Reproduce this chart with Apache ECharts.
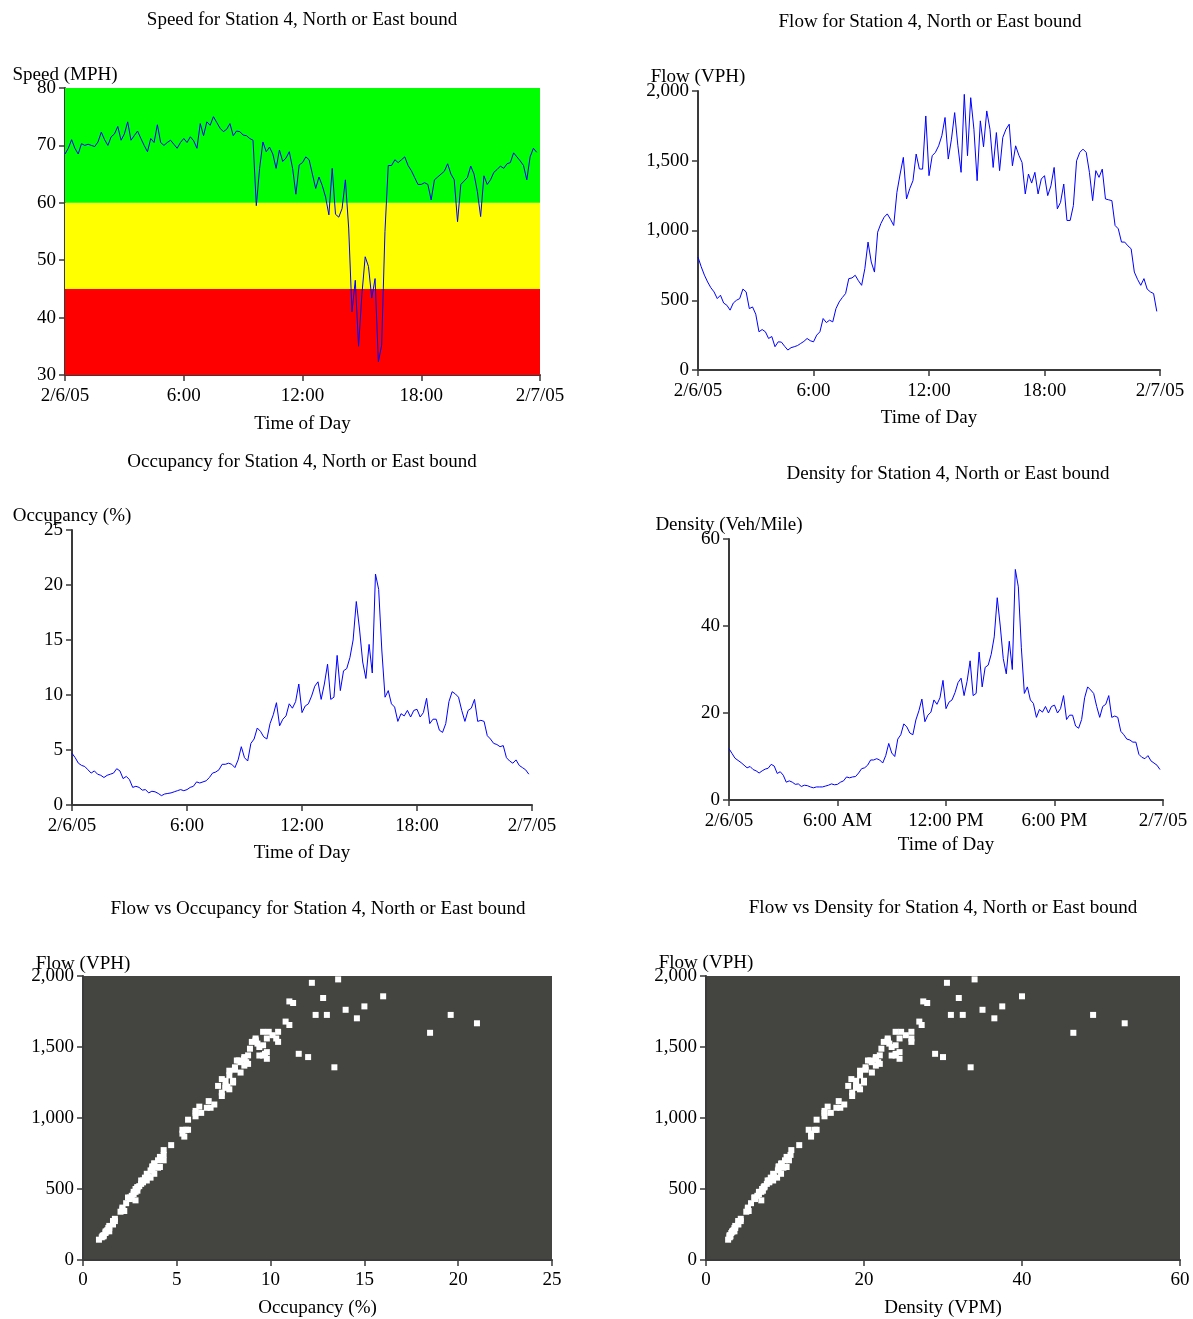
<!DOCTYPE html>
<html>
<head>
<meta charset="utf-8">
<title>Station 4, North or East bound</title>
<script src="https://cdn.jsdelivr.net/npm/echarts@6/dist/echarts.min.js"></script>
<style>
  html, body { margin: 0; padding: 0; background: #fff; }
  #chart { width: 1193px; height: 1319px; }
</style>
</head>
<body>
<div id="chart"></div>
<script>
// Station 4, north/east bound, 2/6/05 – one reading every 10 minutes from midnight.
const speed = [
  68.5, 69.5, 71, 69.5, 68.5, 70.3,
  70, 70.2, 70, 69.8, 70.6, 72.3,
  71, 70, 71.5, 72, 73.3, 70.9,
  72, 74.1, 70.9, 71.7, 72.5, 71.2,
  70, 68.9, 71.2, 70.5, 73.6, 70.5,
  70, 70.5, 70.9, 70.2, 69.5, 70.5,
  71.2, 70.5, 71.5, 70.8, 69.5, 73.8,
  71.7, 74.1, 73.5, 75, 74, 73,
  72.4, 72.8, 73.8, 71.7, 72.5, 72.4,
  71.8, 71.7, 71.2, 70.9, 59.5, 66,
  70.6, 68.9, 69.7, 68.5, 66, 69.2,
  67.2, 67.8, 68.9, 66, 61.5, 66.6,
  67, 68, 67.5, 65, 62.5, 64.5,
  63, 61, 57.9, 66, 58, 57.5,
  59, 64, 55.6, 41, 46.5, 35,
  44, 50.6, 48.9, 43.4, 46.8, 32.3,
  35.2, 55, 66.5, 66.5, 67.5, 67,
  67.5, 68, 66.5, 65.6, 64.4, 63.2,
  63.2, 63.5, 63.2, 60.5, 64, 64.5,
  65, 65.5, 66.8, 65, 64, 56.7,
  63.2, 63.8, 64.4, 66.4, 65, 62,
  57.6, 64.7, 63.2, 64, 65.3, 65.8,
  66.4, 66, 66.8, 67, 68.7, 68,
  67.3, 66.5, 64, 68, 69.5, 68.8
];

const flow = [
  809, 740, 680, 631, 590, 560,
  512, 536, 480, 464, 429, 480,
  500, 512, 580, 560, 440, 452,
  400, 274, 290, 274, 226, 240,
  167, 202, 200, 170, 143, 160,
  167, 175, 190, 205, 226, 210,
  202, 250, 274, 369, 340, 357,
  345, 440, 488, 520, 548, 655,
  660, 679, 640, 607, 726, 917,
  774, 702, 988, 1050, 1095, 1119,
  1080, 1036, 1274, 1405, 1524, 1226,
  1300, 1357, 1548, 1441, 1440, 1821,
  1393, 1536, 1560, 1607, 1679, 1810,
  1512, 1655, 1845, 1607, 1417, 1976,
  1536, 1952, 1726, 1357, 1786, 1600,
  1857, 1726, 1452, 1702, 1429, 1667,
  1726, 1762, 1464, 1607, 1540, 1488,
  1262, 1405, 1340, 1417, 1262, 1369,
  1393, 1250, 1320, 1452, 1155, 1202,
  1333, 1072, 1072, 1179, 1500, 1560,
  1583, 1560, 1417, 1214, 1429, 1381,
  1440, 1226, 1220, 1214, 1036, 1012,
  917, 917, 890, 869, 702, 650,
  607, 655, 580, 560, 548, 420
];

const occupancy = [
  4.7, 4.3, 3.8, 3.6, 3.5, 3.2,
  2.9, 3.1, 2.8, 2.7, 2.5, 2.7,
  2.8, 2.9, 3.3, 3.1, 2.4, 2.6,
  2.3, 1.6, 1.7, 1.6, 1.35, 1.4,
  1.1, 1.25, 1.2, 1.05, 0.85, 1.0,
  1.05, 1.1, 1.2, 1.3, 1.4, 1.3,
  1.4, 1.6, 1.7, 2.1, 2.0, 2.1,
  2.2, 2.5, 2.9, 3.0, 3.2, 3.7,
  3.7, 3.8, 3.7, 3.4, 4.1, 5.3,
  4.3, 4.0, 5.6, 6.0, 7.0, 6.7,
  6.2, 6.0, 7.4, 8.2, 9.3, 7.2,
  7.8, 8.1, 9.2, 8.8, 9.4, 11.0,
  8.4, 9.0, 9.2, 9.9, 10.8, 11.2,
  9.6, 11.0, 12.8, 9.6, 9.8, 13.6,
  10.4, 12.2, 12.4, 13.4, 15.0, 18.5,
  16.0, 13.0, 11.5, 14.6, 12.0, 21.0,
  19.6, 14.0, 9.8, 10.4, 9.2, 8.9,
  7.6, 8.3, 8.1, 8.6, 8.0, 8.6,
  8.7, 8.0, 8.4, 9.7, 7.4, 7.8,
  7.8, 6.8, 6.6, 7.4, 9.4, 10.3,
  10.1, 9.8, 8.6, 7.6, 8.6, 8.8,
  9.6, 7.6, 7.7, 7.6, 6.3, 6.0,
  5.6, 5.5, 5.3, 5.4, 4.3, 4.0,
  3.8, 4.1, 3.6, 3.4, 3.2, 2.8
];

const density = [
  11.8, 10.7, 9.6, 9.1, 8.6, 8.0,
  7.4, 7.7, 7.0, 6.7, 6.2, 6.7,
  7.1, 7.3, 8.2, 7.8, 6.1, 6.5,
  5.7, 4.1, 4.4, 4.1, 3.6, 3.7,
  3.1, 3.4, 3.3, 3.0, 2.8, 3.0,
  3.0, 3.0, 3.2, 3.4, 3.7, 3.5,
  3.6, 4.1, 4.4, 5.3, 5.1, 5.3,
  5.4, 6.2, 7.2, 7.4, 8.0, 9.2,
  9.2, 9.5, 9.2, 8.5, 10.2, 13.0,
  10.8, 10.0, 14.0, 15.0, 17.5, 16.8,
  15.4, 15.0, 18.4, 20.5, 23.2, 18.0,
  19.5, 20.2, 23.0, 22.0, 23.5, 27.5,
  21.0, 22.5, 23.0, 24.7, 27.0, 28.0,
  24.0, 27.3, 32.0, 24.0, 24.5, 34.0,
  26.0, 30.5, 31.0, 33.5, 37.5, 46.5,
  40.0, 32.5, 29.0, 36.5, 30.0, 53.0,
  49.0, 35.0, 24.5, 26.0, 23.0, 22.2,
  19.0, 20.8, 20.2, 21.5, 20.0, 21.5,
  21.8, 20.0, 21.0, 24.0, 18.5, 19.5,
  19.5, 17.0, 16.5, 18.5, 23.5, 26.0,
  25.3, 24.5, 21.5, 19.0, 21.5, 22.0,
  24.0, 19.0, 19.3, 19.0, 15.8, 15.0,
  14.0, 13.8, 13.3, 13.3, 10.5, 9.8,
  9.5, 10.2, 9.0, 8.5, 8.0, 7.0
];

// Speed condition bands (MPH): congested / slowing / free flow
const speedBandEdges = [30, 45, 60, 80];

// Tick labels
const dayTicks = ['2/6/05', '6:00', '12:00', '18:00', '2/7/05'];
const dayTicksAmPm = ['2/6/05', '6:00 AM', '12:00 PM', '6:00 PM', '2/7/05'];
const flowTicks = ['0', '500', '1,000', '1,500', '2,000'];
const occTicks = ['0', '5', '10', '15', '20', '25'];
const densTicks = ['0', '20', '40', '60'];

const titles = [
  'Speed for Station 4, North or East bound',
  'Flow for Station 4, North or East bound',
  'Occupancy for Station 4, North or East bound',
  'Density for Station 4, North or East bound',
  'Flow vs Occupancy for Station 4, North or East bound',
  'Flow vs Density for Station 4, North or East bound'
];

// ---- presentation ----
const FONT = '"Liberation Serif", "Times New Roman", serif';
const AXIS_COLOR = '#3a3a3a';
const LINE_BLUE = '#0000ff';
const bandColors = ['#ff0000', '#ffff00', '#00ff00'];

const minutes = speed.map((_, i) => i * 10);
const pairs = (vals) => vals.map((v, i) => [minutes[i], v]);

const textStyle = { fontFamily: FONT, fontSize: 19, color: '#000', fontWeight: 'normal' };

function baseAxis(extra) {
  return Object.assign({
    type: 'value',
    axisLine: { show: true, lineStyle: { color: AXIS_COLOR, width: 2 } },
    axisTick: { show: true, length: 6, lineStyle: { color: AXIS_COLOR, width: 1.5 } },
    splitLine: { show: false },
    nameTextStyle: Object.assign({}, textStyle)
  }, extra);
}

function timeAxis(gridIndex, labels, gap) {
  return baseAxis({
    gridIndex, min: 0, max: 1440, interval: 360,
    name: 'Time of Day', nameLocation: 'middle', nameGap: gap,
    axisLabel: Object.assign({ margin: 12, formatter: v => labels[Math.round(v / 360)] }, textStyle)
  });
}

// Value axis on the left; its name sits centred over the top end of the axis line,
// close to the top tick label.
function leftAxis(gridIndex, name, min, max, interval, labels, gap) {
  return baseAxis({
    gridIndex, min, max, interval,
    name, nameLocation: 'end', nameGap: gap, nameMoveOverlap: false,
    nameTextStyle: Object.assign({ align: 'center', verticalAlign: 'middle' }, textStyle),
    axisLabel: Object.assign({ margin: 9, formatter: v => labels ? labels[Math.round((v - min) / interval)] : String(v) }, textStyle)
  });
}

function valueXAxis(gridIndex, name, max, interval, labels) {
  return baseAxis({
    gridIndex, min: 0, max, interval,
    name, nameLocation: 'middle', nameGap: 39,
    axisLabel: Object.assign({ margin: 11, formatter: v => labels[Math.round(v / interval)] }, textStyle)
  });
}

const titlePlacement = [
  [302, 11], [930, 13], [302, 453], [948, 465], [318, 900], [943, 899]
];

const bands = [];
for (let k = 0; k < speedBandEdges.length - 1; k++) {
  bands.push([
    { yAxis: speedBandEdges[k], itemStyle: { color: bandColors[k], opacity: 1 } },
    { yAxis: speedBandEdges[k + 1] }
  ]);
}

const option = {
  animation: false,
  backgroundColor: '#ffffff',
  title: titles.map((t, i) => ({
    text: t,
    left: titlePlacement[i][0],
    top: titlePlacement[i][1],
    textAlign: 'center',
    padding: 0,
    textStyle: Object.assign({}, textStyle)
  })),
  grid: [
    { left: 65, top: 88, width: 475, height: 287 },
    { left: 698, top: 91, width: 462, height: 279 },
    { left: 72, top: 530, width: 460, height: 275 },
    { left: 729, top: 539, width: 434, height: 261 },
    { left: 83, top: 976, width: 469, height: 284, show: true, backgroundColor: '#444440', borderWidth: 0 },
    { left: 706, top: 976, width: 474, height: 285, show: true, backgroundColor: '#444440', borderWidth: 0 }
  ],
  xAxis: [
    timeAxis(0, dayTicks, 40),
    timeAxis(1, dayTicks, 39),
    timeAxis(2, dayTicks, 39),
    timeAxis(3, dayTicksAmPm, 36),
    valueXAxis(4, 'Occupancy (%)', 25, 5, occTicks),
    valueXAxis(5, 'Density (VPM)', 60, 20, densTicks)
  ],
  yAxis: [
    leftAxis(0, 'Speed (MPH)', 30, 80, 10, null, 13),
    leftAxis(1, 'Flow (VPH)', 0, 2000, 500, flowTicks, 14),
    leftAxis(2, 'Occupancy (%)', 0, 25, 5, null, 14),
    leftAxis(3, 'Density (Veh/Mile)', 0, 60, 20, null, 14),
    leftAxis(4, 'Flow (VPH)', 0, 2000, 500, flowTicks, 12),
    leftAxis(5, 'Flow (VPH)', 0, 2000, 500, flowTicks, 13)
  ],
  series: [
    {
      type: 'line', xAxisIndex: 0, yAxisIndex: 0,
      data: pairs(speed), showSymbol: false, symbol: 'none',
      lineStyle: { color: LINE_BLUE, width: 1 },
      markArea: { silent: true, data: bands },
      z: 3
    },
    {
      type: 'line', xAxisIndex: 1, yAxisIndex: 1,
      data: pairs(flow), showSymbol: false, symbol: 'none',
      lineStyle: { color: LINE_BLUE, width: 1 }
    },
    {
      type: 'line', xAxisIndex: 2, yAxisIndex: 2,
      data: pairs(occupancy), showSymbol: false, symbol: 'none',
      lineStyle: { color: LINE_BLUE, width: 1 }
    },
    {
      type: 'line', xAxisIndex: 3, yAxisIndex: 3,
      data: pairs(density), showSymbol: false, symbol: 'none',
      lineStyle: { color: LINE_BLUE, width: 1 }
    },
    {
      type: 'scatter', xAxisIndex: 4, yAxisIndex: 4,
      data: occupancy.map((o, i) => [o, flow[i]]),
      symbol: 'rect', symbolSize: 6,
      itemStyle: { color: '#ffffff', opacity: 1 }
    },
    {
      type: 'scatter', xAxisIndex: 5, yAxisIndex: 5,
      data: density.map((d, i) => [d, flow[i]]),
      symbol: 'rect', symbolSize: 6,
      itemStyle: { color: '#ffffff', opacity: 1 }
    }
  ]
};

const chart = echarts.init(document.getElementById('chart'), null, { renderer: 'canvas' });
chart.setOption(option);
</script>
</body>
</html>
